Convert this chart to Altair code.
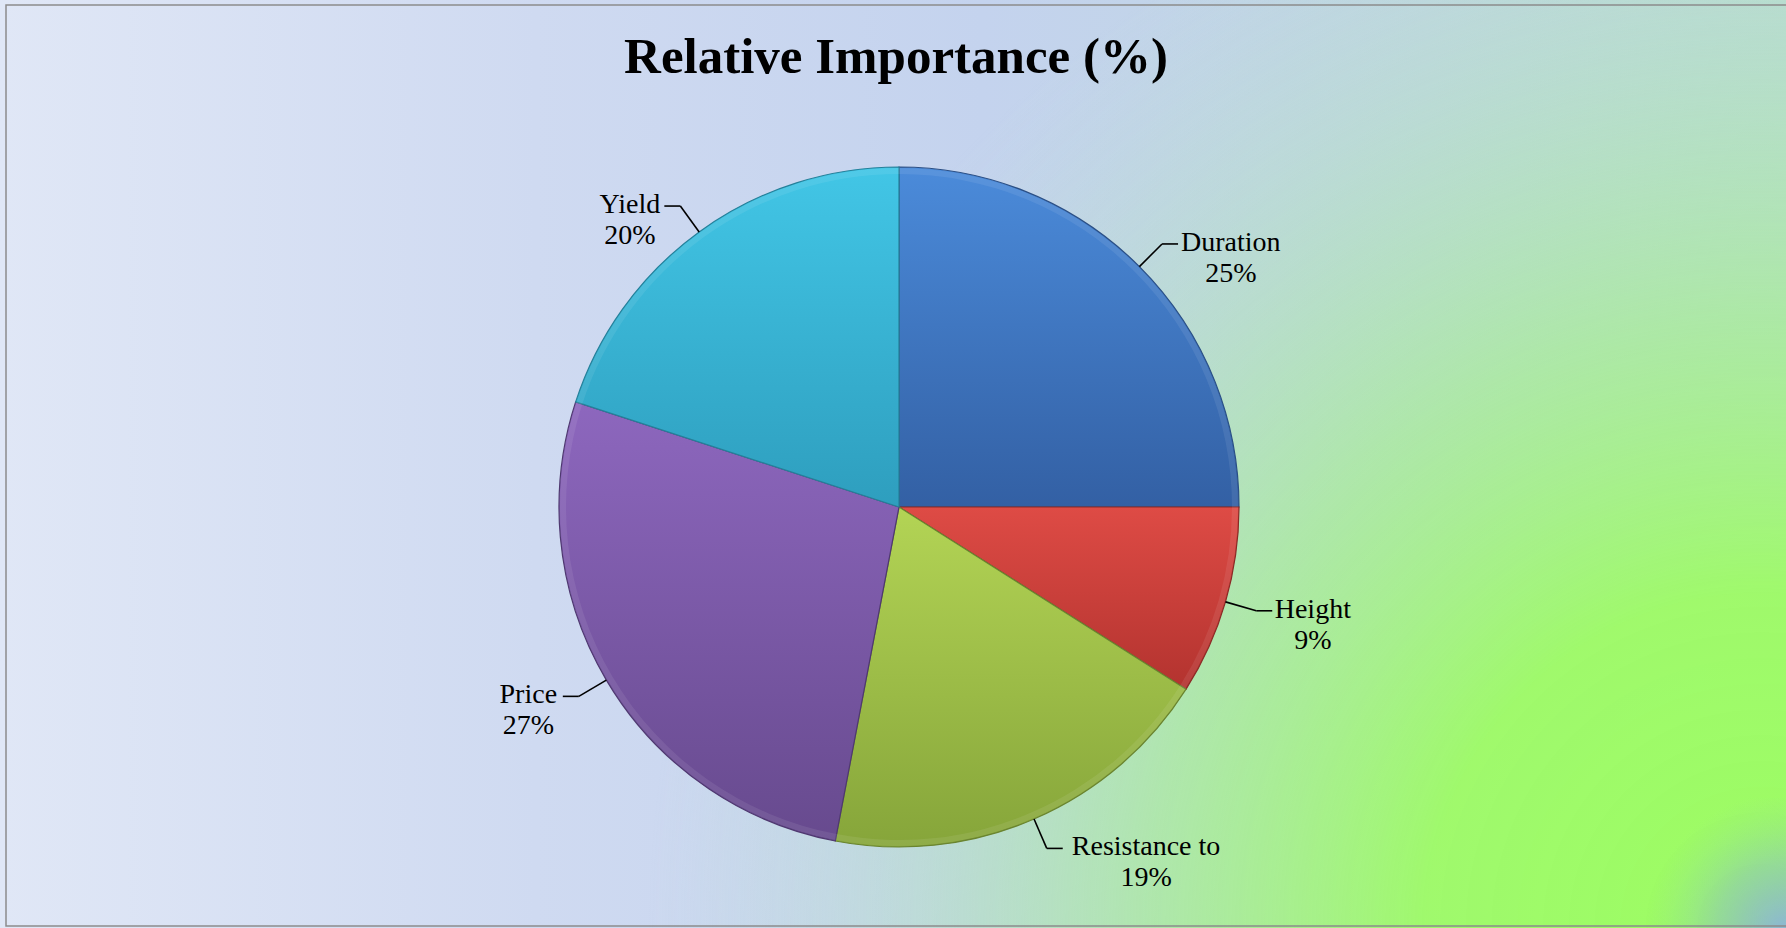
import altair as alt
import pandas as pd

TITLE = "Relative Importance (%)"
categories = ["Duration", "Height", "Resistance to", "Price", "Yield"]
values = [25, 9, 19, 27, 20]

# styling (slice shading: top colour, bottom colour, edge colour)
top_colors = ["#4b8bda", "#de4b45", "#b3d455", "#8d67be", "#42c6e6"]
bottom_colors = ["#3360a4", "#b3332f", "#86a53a", "#674a8e", "#2e9ebe"]
edge_colors = ["#2b4f85", "#8a2a26", "#6a8430", "#4f3870", "#25809a"]

W, H = 1786, 928
CX, CY, R = 899, 507, 340
R_ELBOW = 372
HLINE = 16
CHAR_W = 12.2
FONT = "Liberation Serif"

df = pd.DataFrame({"category": categories, "value": values})

base = alt.Chart(df).transform_window(
    cum="sum(value)", frame=[None, 0]
).transform_calculate(
    start="datum.cum - datum.value",
    end="datum.cum",
)

theta_scale = alt.Scale(domain=[0, 100])

# background: bluish base + green glow from the lower right
bg_grad = alt.Gradient(
    gradient="linear",
    stops=[
        alt.GradientStop(color="#e0e7f6", offset=0),
        alt.GradientStop(color="#cfdaf1", offset=0.3),
        alt.GradientStop(color="#c4d3ee", offset=0.55),
        alt.GradientStop(color="#bfd6e2", offset=0.8),
        alt.GradientStop(color="#badad6", offset=1),
    ],
    x1=0, y1=0, x2=1, y2=0,
)
GX0, GY0 = 500, -500
gw, gh = W - GX0, H - GY0
gcx = (1700 - GX0) / gw
green_grad = alt.Gradient(
    gradient="radial",
    stops=[
        alt.GradientStop(color="rgba(156,253,98,1)", offset=0),
        alt.GradientStop(color="rgba(158,251,102,0.95)", offset=0.3),
        alt.GradientStop(color="rgba(165,240,140,0.65)", offset=0.55),
        alt.GradientStop(color="rgba(175,230,180,0.28)", offset=0.8),
        alt.GradientStop(color="rgba(185,222,205,0)", offset=1),
    ],
    x1=gcx, y1=1.0, r1=0, x2=gcx, y2=1.0, r2=0.78,
)
corner_grad = alt.Gradient(
    gradient="radial",
    stops=[
        alt.GradientStop(color="rgba(140,180,215,1)", offset=0),
        alt.GradientStop(color="rgba(140,185,200,0.5)", offset=0.5),
        alt.GradientStop(color="rgba(150,220,150,0)", offset=1),
    ],
    x1=1, y1=1, r1=0, x2=1, y2=1, r2=1,
)
one = alt.Data(values=[{"a": 1}])
bg = alt.Chart(one).mark_rect(fill=bg_grad).encode(
    x=alt.value(0), x2=alt.value(W), y=alt.value(0), y2=alt.value(H)
)
glow = alt.Chart(one).mark_rect(fill=green_grad).encode(
    x=alt.value(GX0), x2=alt.value(W), y=alt.value(GY0), y2=alt.value(H)
)
corner = alt.Chart(one).mark_rect(fill=corner_grad).encode(
    x=alt.value(W - 140), x2=alt.value(W), y=alt.value(H - 130), y2=alt.value(H)
)
frame = alt.Chart(one).mark_rect(filled=False, stroke="#8c8c8c", strokeWidth=1.5).encode(
    x=alt.value(6), x2=alt.value(W + 10), y=alt.value(5), y2=alt.value(926)
)

slices = []
for c, t, b, e in zip(categories, top_colors, bottom_colors, edge_colors):
    grad = alt.Gradient(
        gradient="linear",
        stops=[alt.GradientStop(color=t, offset=0), alt.GradientStop(color=b, offset=1)],
        x1=0, y1=0, x2=0, y2=1,
    )
    slices.append(
        base.transform_filter(alt.datum.category == c)
        .mark_arc(radius=R, fill=grad, stroke=e, strokeWidth=1.2)
        .encode(
            theta=alt.Theta("start:Q", scale=theta_scale),
            theta2="end:Q",
            x=alt.value(CX),
            y=alt.value(CY),
        )
    )

bevel = base.mark_arc(radius=R - 1, radius2=R - 7, fill="white", fillOpacity=0.08).encode(
    theta=alt.Theta("start:Q", scale=theta_scale),
    theta2="end:Q",
    x=alt.value(CX),
    y=alt.value(CY),
)

lab = base.transform_calculate(
    mid="(datum.start + datum.end) / 200 * 2 * PI",
    side="sin(datum.mid) >= 0 ? 1 : -1",
    ex=f"{CX} + {R} * sin(datum.mid)",
    ey=f"{CY} - {R} * cos(datum.mid)",
    px=f"{CX} + {R_ELBOW} * sin(datum.mid)",
    py=f"{CY} - {R_ELBOW} * cos(datum.mid)",
    hx=f"datum.px + datum.side * {HLINE}",
    tx=f"datum.hx + datum.side * (4 + length(datum.category) * {CHAR_W} / 2)",
    ty1="datum.py + 7",
    ty2="datum.py + 38",
    pct="datum.value + '%'",
)

rule1 = lab.mark_rule(color="black", strokeWidth=1.6).encode(
    x=alt.X("ex:Q", scale=None, axis=None),
    y=alt.Y("ey:Q", scale=None, axis=None),
    x2="px:Q",
    y2="py:Q",
)
rule2 = lab.mark_rule(color="black", strokeWidth=1.6).encode(
    x=alt.X("px:Q", scale=None, axis=None),
    y=alt.Y("py:Q", scale=None, axis=None),
    x2="hx:Q",
    y2="py:Q",
)
t1 = lab.mark_text(font=FONT, fontSize=28, color="black", align="center", baseline="alphabetic").encode(
    x=alt.X("tx:Q", scale=None, axis=None),
    y=alt.Y("ty1:Q", scale=None, axis=None),
    text="category:N",
)
t2 = lab.mark_text(font=FONT, fontSize=28, color="black", align="center", baseline="alphabetic").encode(
    x=alt.X("tx:Q", scale=None, axis=None),
    y=alt.Y("ty2:Q", scale=None, axis=None),
    text="pct:N",
)

title = alt.Chart(alt.Data(values=[{"t": TITLE}])).mark_text(
    font=FONT, fontSize=51, fontWeight="bold", color="black", align="center", baseline="alphabetic"
).encode(x=alt.value(896), y=alt.value(73), text="t:N")

chart = alt.layer(bg, glow, corner, frame, *slices, bevel, rule1, rule2, t1, t2, title).properties(
    width=W, height=H, autosize=alt.AutoSizeParams(type="none"), padding=0, background="white"
).configure_view(stroke=None)

chart.save("out.html", embed_options={"renderer": "svg", "actions": False})
